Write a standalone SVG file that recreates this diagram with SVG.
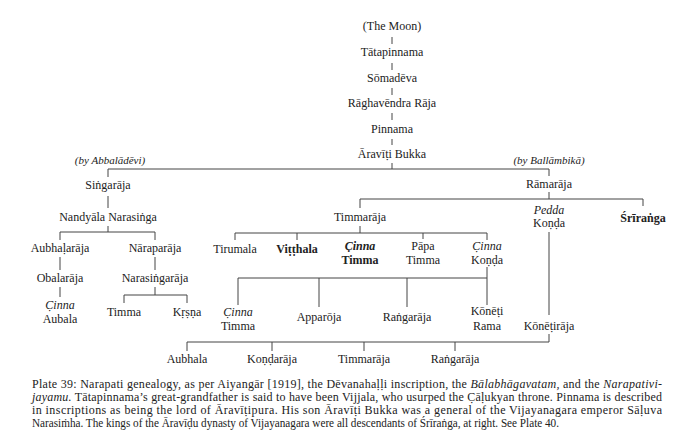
<svg xmlns="http://www.w3.org/2000/svg" width="690" height="447" viewBox="0 0 690 447">
<style>
.t{font-family:"Liberation Serif","DejaVu Serif",serif;font-size:12px;fill:#222;text-anchor:middle}
.i{font-style:italic}
.b{font-weight:bold}
.n{font-family:"Liberation Serif","DejaVu Serif",serif;font-size:11px;font-style:italic;fill:#222;text-anchor:middle}
.c{font-family:"Liberation Serif","DejaVu Serif",serif;font-size:12px;fill:#222}
#connectors path{fill:none;stroke:#444;stroke-width:1}
</style>
<rect width="690" height="447" fill="#fff"/>
<g id="connectors">
<path d="M392 37V44M392 63V70M392 88V95M392 113V120M392 139V145M392 163V169"/>
<path d="M108 177V169H549V176"/>
<path d="M108 196V208"/>
<path d="M108 226V232M60 240V232H155V240"/>
<path d="M60 257V270M155 257V270"/>
<path d="M60 287V297"/>
<path d="M155 287V295M124 303V295H187V303"/>
<path d="M549 192V199M360 208V199H643V206"/>
<path d="M360 226V233M235 240V233H487V240M297 233V240M423 233V239"/>
<path d="M487 267V278M238 305V278H487V305M319 278V307M407 278V307"/>
<path d="M549 232V315"/>
<path d="M549 334V342H187V351M272 342V351M364 342V351M455 342V351"/>
</g>
<g id="moon"><text class="t" x="392" y="30">(The Moon)</text></g>
<g id="tatapinnama"><text class="t" x="392" y="56">Tātapinnama</text></g>
<g id="somadeva"><text class="t" x="392" y="82">Sōmadēva</text></g>
<g id="raghavendra"><text class="t" x="392" y="107">Rāghavēndra Rāja</text></g>
<g id="pinnama"><text class="t" x="392" y="133">Pinnama</text></g>
<g id="bukka"><text class="t" x="392" y="158">Āravīṭi Bukka</text></g>
<g id="note-abbaladevi"><text class="n" x="110" y="164">(by Abbalādēvi)</text></g>
<g id="note-ballambika"><text class="n" x="549" y="164">(by Ballāmbikā)</text></g>
<g id="singaraja"><text class="t" x="108" y="189">Siṅgarāja</text></g>
<g id="nandyala"><text class="t" x="108" y="221">Nandyāla Narasiṅga</text></g>
<g id="aubhalaraja"><text class="t" x="60" y="252">Aubhaḷarāja</text></g>
<g id="naraparaja"><text class="t" x="155" y="252">Nāraparāja</text></g>
<g id="obalaraja"><text class="t" x="60" y="282">Obalarāja</text></g>
<g id="narasingaraja"><text class="t" x="155" y="282">Narasiṅgarāja</text></g>
<g id="cinna-aubala"><text class="t i" x="60" y="309">C̣inna</text><text class="t" x="60" y="323">Aubala</text></g>
<g id="timma-1"><text class="t" x="124" y="316">Timma</text></g>
<g id="krsna"><text class="t" x="187" y="316">Kṛṣṇa</text></g>
<g id="ramaraja"><text class="t" x="549" y="188">Rāmarāja</text></g>
<g id="timmaraja"><text class="t" x="360" y="221">Timmarāja</text></g>
<g id="pedda-konda"><text class="t i" x="549" y="214">Pedda</text><text class="t" x="549" y="227">Koṇḍa</text></g>
<g id="sriranga"><text class="t b" x="643" y="222">Śrīraṅga</text></g>
<g id="tirumala"><text class="t" x="235" y="253">Tirumala</text></g>
<g id="vitthala"><text class="t b" x="297" y="253">Viṭṭhala</text></g>
<g id="cinna-timma-bold"><text class="t i b" x="360" y="250">C̣inna</text><text class="t b" x="360" y="264">Timma</text></g>
<g id="papa-timma"><text class="t" x="423" y="250">Pāpa</text><text class="t" x="423" y="264">Timma</text></g>
<g id="cinna-konda"><text class="t i" x="487" y="250">C̣inna</text><text class="t" x="487" y="264">Koṇḍa</text></g>
<g id="cinna-timma"><text class="t i" x="238" y="316">C̣inna</text><text class="t" x="238" y="330">Timma</text></g>
<g id="apparoja"><text class="t" x="319" y="321">Apparōja</text></g>
<g id="rangaraja-1"><text class="t" x="407" y="321">Raṅgarāja</text></g>
<g id="koneti-rama"><text class="t" x="487" y="315">Kōnēṭi</text><text class="t" x="487" y="330">Rama</text></g>
<g id="konetiraja"><text class="t" x="549" y="330">Kōnēṭirāja</text></g>
<g id="aubhala"><text class="t" x="187" y="363">Aubhala</text></g>
<g id="kondaraja"><text class="t" x="272" y="363">Koṇḍarāja</text></g>
<g id="timmaraja-2"><text class="t" x="364" y="363">Timmarāja</text></g>
<g id="rangaraja-2"><text class="t" x="455" y="363">Raṅgarāja</text></g>
<g id="caption">
<text class="c" x="32" y="388" textLength="630" lengthAdjust="spacing">Plate 39:  Narapati genealogy, as per Aiyangār [1919], the Dēvanahaḷḷi inscription, the <tspan font-style="italic">Bālabhāgavatam,</tspan> and the <tspan font-style="italic">Narapativi-</tspan></text>
<text class="c" x="32" y="401" textLength="630" lengthAdjust="spacing"><tspan font-style="italic">jayamu.</tspan> Tātapinnama’s great-grandfather is said to have been Vijjala, who usurped the C̣āḷukyan throne. Pinnama is described</text>
<text class="c" x="32" y="414" textLength="630" lengthAdjust="spacing">in inscriptions as being the lord of Āravīṭipura.  His son Āravīṭi Bukka was a general of the Vijayanagara emperor Sāḷuva</text>
<text class="c" x="32" y="427" textLength="527" lengthAdjust="spacingAndGlyphs">Narasiṁha. The kings of the Āravīḍu dynasty of Vijayanagara were all descendants of Śrīraṅga, at right. See Plate 40.</text>
</g>
</svg>
